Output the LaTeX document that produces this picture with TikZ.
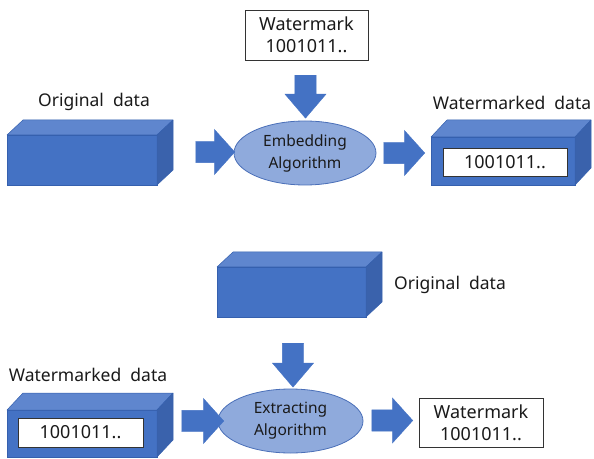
\documentclass[tikz,border=0pt]{standalone}
\usepackage{fontspec}
\setmainfont{Noto Sans}
\usetikzlibrary{shapes.geometric,shapes.arrows,calc}

\definecolor{cubeblue}{HTML}{4472C4}
\definecolor{cubetop}{HTML}{5F86CE}
\definecolor{cubeside}{HTML}{3A62AC}
\definecolor{cubeedge}{HTML}{3560AE}
\definecolor{ellfill}{HTML}{8FAADC}
\definecolor{elledge}{HTML}{4A6FB8}
\definecolor{txt}{HTML}{1A1A1A}

% top and right faces of a box whose front face is node #1, depth (#2,#3)
\newcommand\cubefaces[3]{%
  \filldraw[cubeedge,fill=cubetop,line width=0.5bp,line join=round]
    (#1.north west) -- ++(#2,-#3) -- ($(#1.north east)+(#2,-#3)$) -- (#1.north east) -- cycle;
  \filldraw[cubeedge,fill=cubeside,line width=0.5bp,line join=round]
    (#1.north east) -- ++(#2,-#3) -- ($(#1.south east)+(#2,-#3)$) -- (#1.south east) -- cycle;
}

\begin{document}
\begin{tikzpicture}[x=1bp,y=-1bp,
  font=\fontsize{17.5bp}{22bp}\selectfont,
  every node/.style={text=txt},
  cubefront/.style={draw=cubeedge,line width=0.5bp,fill=cubeblue,inner sep=0pt,outer sep=0pt},
  databox/.style={draw=black!80,line width=0.8bp,fill=white,inner sep=0pt,outer sep=0pt,align=center,
    font=\fontsize{18bp}{22bp}\selectfont},
  algo/.style={ellipse,draw=elledge,line width=0.8bp,fill=ellfill,inner sep=0pt,align=center,
    font=\fontsize{15.5bp}{22bp}\selectfont},
  blkarrow/.style={single arrow,fill=cubeblue,draw=cubeblue,line width=0.3bp,inner sep=0pt,
    inner ysep=10.5bp,single arrow head extend=12bp,single arrow tip angle=96,outer sep=0pt},
  blkdown/.style={blkarrow,single arrow head extend=10bp,single arrow tip angle=81,rotate=-90},
  label/.style={inner sep=0pt}
]
\useasboundingbox (0,0) rectangle (594,459);

% ---------------- embedding ----------------
\node[label] (lorig1) at (94,102) {Original\ \ data};
\node[cubefront,minimum width=150bp,minimum height=50bp] (orig1) at (82,160) {};
\cubefaces{orig1}{16}{15}

\node[databox,minimum width=123bp,minimum height=50bp] (wm1) at (306.5,35) {Watermark\\1001011..};

\node[algo,minimum width=142bp,minimum height=64bp] (emb) at (305,153) {Embedding\\Algorithm};

\node[label] (lwd1) at (512,103) {Watermarked\ \ data};
\node[cubefront,minimum width=144bp,minimum height=48bp] (wd1) at (503,161) {};
\cubefaces{wd1}{16}{17}
\node[databox,minimum width=124bp,minimum height=28bp] (bits1) at (505,162) {1001011..};

\node[blkarrow,minimum height=39bp] (a1) at (210.5,152) {};
\node[blkarrow,minimum height=41bp] (a2) at (399.5,153) {};
\node[blkdown,minimum height=43bp] (a3) at (305.5,90.5) {};

% ---------------- extraction ----------------
\node[cubefront,minimum width=149bp,minimum height=50bp] (orig2) at (291.5,292) {};
\cubefaces{orig2}{16}{15}
\node[label] (lorig2) at (450,285) {Original\ \ data};

\node[label] (lwd2) at (88,375) {Watermarked\ \ data};
\node[cubefront,minimum width=150bp,minimum height=47bp] (wd2) at (82,433.5) {};
\cubefaces{wd2}{16}{17}
\node[databox,minimum width=125bp,minimum height=29bp] (bits2) at (80.5,432.5) {1001011..};

\node[algo,minimum width=145bp,minimum height=64bp] (ext) at (290.5,421) {Extracting\\Algorithm};

\node[databox,minimum width=124bp,minimum height=49bp] (wm2) at (481,422.5) {Watermark\\1001011..};

\node[blkarrow,minimum height=42bp] (a4) at (198,421) {};
\node[blkarrow,minimum height=41bp] (a5) at (387.5,420.5) {};
\node[blkdown,minimum height=44bp] (a6) at (293,359) {};
\end{tikzpicture}
\end{document}
